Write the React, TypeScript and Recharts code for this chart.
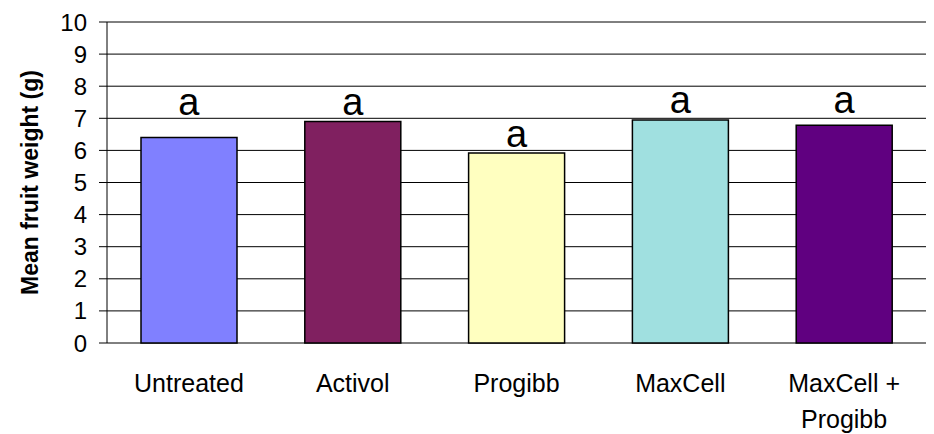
import {
  ComposedChart,
  Bar,
  Line,
  Cell,
  LabelList,
  XAxis,
  YAxis,
  CartesianGrid,
  ReferenceLine,
} from "recharts";

const TREATMENTS = ["Untreated", "Activol", "Progibb", "MaxCell", "MaxCell + Progibb"];
const MEAN_WEIGHT = [6.4, 6.9, 5.92, 6.95, 6.78];
const LETTERS = ["a", "a", "a", "a", "a"];
const LETTER_POS = [7.1, 7.1, 6.12, 7.16, 7.16];
const BAR_COLORS = ["#8080FF", "#802060", "#FFFFC0", "#A0E0E0", "#600080"];
const Y_TICKS = [0, 1, 2, 3, 4, 5, 6, 7, 8, 9, 10];
const EDGE_TICKS = [0, 1, 2, 3, 4, 5];

const FONT = "Arial, 'Liberation Sans', sans-serif";

const chartData = TREATMENTS.map((name, i) => ({
  name,
  weight: MEAN_WEIGHT[i],
  letter: LETTERS[i],
  letterPos: LETTER_POS[i],
}));

function CategoryTick({ x, y, payload }: any) {
  const lines = String(payload.value).split(/(?<=\+)\s/);
  return (
    <text x={x} y={y} textAnchor="middle" fontSize={25} fontFamily={FONT} fill="#000">
      {lines.map((l, i) => (
        <tspan key={i} x={x} dy={i === 0 ? 49 : 36}>
          {l}
        </tspan>
      ))}
    </text>
  );
}

function YTitle({ viewBox }: any) {
  const cy = viewBox.y + viewBox.height / 2;
  return (
    <text
      x={30}
      y={cy}
      transform={`rotate(-90, 30, ${cy})`}
      textAnchor="middle"
      dominantBaseline="central"
      fontSize={23}
      fontWeight="bold"
      fontFamily={FONT}
      fill="#000"
    >
      Mean fruit weight (g)
    </text>
  );
}

function LetterLabel({ x, y, value }: any) {
  return (
    <text x={x} y={y} textAnchor="middle" fontSize={38} fontFamily={FONT} fill="#000">
      {value}
    </text>
  );
}

export default function App() {
  return (
    <div style={{ position: "absolute", left: 0, top: 0, background: "#fff" }}>
      <ComposedChart
        width={934}
        height={434}
        data={chartData}
        margin={{ top: 22, right: 8, left: 0, bottom: 0 }}
      >
        <CartesianGrid vertical={false} stroke="#000" strokeWidth={1} />
        <XAxis
          xAxisId="edges"
          type="number"
          domain={[0, 5]}
          ticks={EDGE_TICKS}
          tick={false}
          height={0}
          tickSize={8}
          axisLine={{ stroke: "#000" }}
          tickLine={{ stroke: "#000" }}
        />
        <XAxis
          dataKey="name"
          height={91}
          axisLine={false}
          tickLine={false}
          tickSize={0}
          tickMargin={0}
          interval={0}
          tick={<CategoryTick />}
        />
        <YAxis
          domain={[0, 10]}
          ticks={Y_TICKS}
          width={107}
          tickSize={8}
          tickMargin={12}
          interval={0}
          axisLine={{ stroke: "#000" }}
          tickLine={{ stroke: "#000" }}
          tick={{ fontSize: 24, fill: "#000", fontFamily: FONT }}
          label={<YTitle />}
        />
        <YAxis
          yAxisId="frame"
          orientation="right"
          domain={[0, 10]}
          width={0}
          tick={false}
          tickLine={false}
          axisLine={{ stroke: "#808080" }}
        />
        <ReferenceLine y={10} stroke="#808080" />
        <Bar dataKey="weight" barSize={96} stroke="#000" strokeWidth={1.5} isAnimationActive={false}>
          {chartData.map((d, i) => (
            <Cell key={d.name} fill={BAR_COLORS[i]} />
          ))}
        </Bar>
        <Line
          dataKey="letterPos"
          stroke="none"
          dot={false}
          activeDot={false}
          isAnimationActive={false}
        >
          <LabelList dataKey="letter" content={<LetterLabel />} />
        </Line>
      </ComposedChart>
    </div>
  );
}
